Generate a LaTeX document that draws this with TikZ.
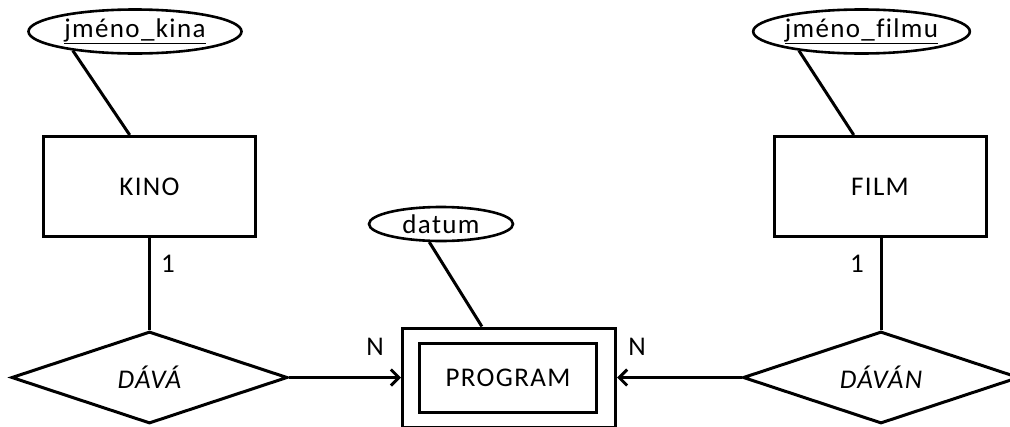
\documentclass[tikz,border=0pt]{standalone}
\usepackage{fontspec}
\setmainfont{Carlito}[LetterSpace=5,Ligatures=CommonOff]
\usetikzlibrary{shapes.geometric,arrows.meta}
\tikzset{myentity/.style={
  shape=rectangle,
  draw=black,
  line width=3pt,
  minimum width=212pt,
  minimum height=100pt,
  inner sep=0pt,
  }
}
\tikzset{myattr/.style={
  shape=ellipse,
  draw=black,
  line width=2.6pt,
  inner sep=0pt,
  }
}
\tikzset{myrel/.style={
  shape=diamond,
  draw=black,
  line width=3pt,
  minimum width=276pt,
  minimum height=92pt,
  aspect=3,
  inner sep=0pt,
  font=\fontsize{27}{32}\selectfont\itshape,
  }
}
\tikzset{mylink/.style={
  draw=black,
  line width=3pt,
  }
}
\tikzset{myarrow/.style={
  mylink,
  -{Straight Barb[length=8pt,width=16pt]},
  }
}

\begin{document}
\begin{tikzpicture}[x=1pt,y=-1pt,font=\fontsize{27}{32}\selectfont]
      \useasboundingbox (0,0) rectangle (1010,426);
      \clip (0,0) rectangle (1010,426);

      \node [myentity] (kino) at (149.5,186.5) {KINO};
      \node [myentity] (film) at (880,186.5) {FILM};
      \node [myentity, minimum width=177pt, minimum height=69pt] (program) at (508,377.5) {PROGRAM};
      \node [myentity, minimum width=213pt, minimum height=99pt] (programbox) at (509,377.5) {};

      \node [myattr, minimum width=213pt, minimum height=44pt] (jmenokina) at (135,31.5) {\underline{jméno\_kina}};
      \node [myattr, minimum width=214pt, minimum height=44pt] (jmenofilmu) at (861.5,31.5) {\underline{jméno\_filmu}};
      \node [myattr, minimum width=144pt, minimum height=34pt] (datum) at (441,224) {datum};

      \node [myrel] (dava) at (149.5,377.5) {DÁVÁ};
      \node [myrel] (davan) at (881,377.5) {DÁVÁN};

      \node (kinoone) at (168,264) {1};
      \node (filmone) at (857,264) {1};
      \node (davaN) at (375,347) {N};
      \node (davanN) at (637,347) {N};

      \draw [mylink] (jmenokina.197) -- (kino.111);
      \draw [mylink] (jmenofilmu.197) -- (film.117);
      \draw [mylink] (datum.237) -- (programbox.118);
      \draw [mylink] (kino.south) -- (dava.north);
      \draw [mylink] (davan.north) -- (davan.north |- film.south);
      \draw [myarrow] (dava.east) -- (programbox.west);
      \draw [myarrow] (davan.west) -- (programbox.east);
\end{tikzpicture}
\end{document}
